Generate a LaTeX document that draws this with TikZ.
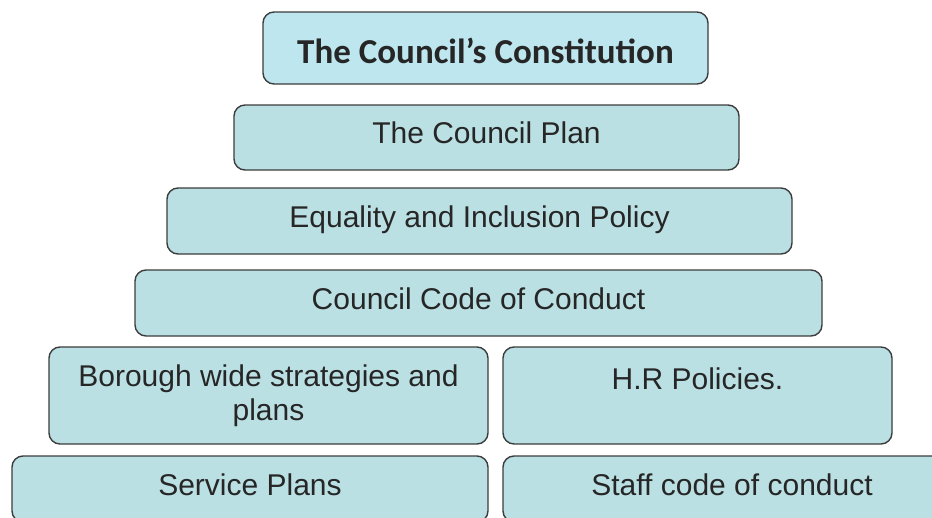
\documentclass[tikz,border=0pt]{standalone}
\usepackage{fontspec}
\setmainfont{Liberation Sans}
\newfontfamily\titlefont{Carlito}
\usetikzlibrary{positioning}
\definecolor{boxfill}{HTML}{BAE0E4}
\definecolor{topfill}{HTML}{BDE6EF}
\definecolor{boxline}{HTML}{3C3C3C}

\begin{document}
\begin{tikzpicture}[
    x=1pt, y=-1pt,
    box/.style={draw=boxline, line width=1.4pt, fill=boxfill, rounded corners=11pt,
      inner sep=0pt, align=center, text=black!85, font=\fontsize{30}{34}\selectfont},
    tier/.style={box, text height=22pt, text depth=10pt},
    toptier/.style={box, fill=topfill, text height=32pt, text depth=2pt,
      font=\titlefont\bfseries\fontsize{35}{33}\selectfont},
    twoline/.style={box, execute at begin node={\rule{0pt}{38pt}}}
    ]
  \clip (0,0) rectangle (932,517);
  \node [toptier, minimum width=445pt, minimum height=72pt] (constitution) at (485.5,48) {The Council’s Constitution};
  \node [tier, minimum width=505pt, minimum height=65pt] (plan) at (486.5,137.5) {The Council Plan};
  \node [tier, minimum width=625pt, minimum height=66pt] (equality) at (479.5,221) {Equality and Inclusion Policy};
  \node [tier, minimum width=687pt, minimum height=66pt] (code) at (478.5,303) {Council Code of Conduct};
  % two columns
  \node [twoline, minimum width=439pt, minimum height=97pt] (borough) at (268.5,395.5) {Borough wide strategies and\\plans};
  \node [twoline, minimum width=389pt, minimum height=97pt] (hr) at (697.5,395.5) {H.R Policies.\\~};
  \node [tier, minimum width=476pt, minimum height=66pt] (service) at (250,489) {Service Plans};
  \node [tier, minimum width=458pt, minimum height=66pt] (staff) at (732,489) {Staff code of conduct};
\end{tikzpicture}
\end{document}
